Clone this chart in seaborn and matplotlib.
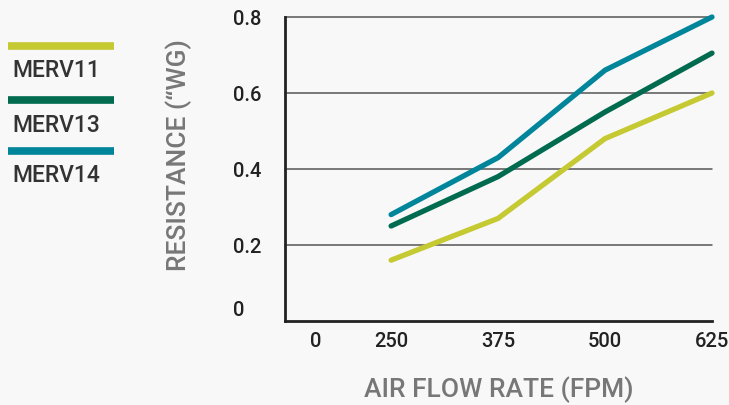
import numpy as np
import pandas as pd
import matplotlib
matplotlib.use("Agg")
import matplotlib.pyplot as plt
from matplotlib.lines import Line2D
from matplotlib.transforms import ScaledTranslation
import seaborn as sns

# ---- data ----
flow_rates = [250, 375, 500, 625]
merv11 = [0.16, 0.27, 0.48, 0.60]
merv13 = [0.25, 0.38, 0.55, 0.705]
merv14 = [0.28, 0.43, 0.66, 0.80]
series_names = ["MERV11", "MERV13", "MERV14"]
series_colors = ["#c5c932", "#006b4f", "#00859b"]
x_tick_values = [162, 250, 375, 500, 625]
x_tick_labels = ["0", "250", "375", "500", "625"]
y_ticks = [0, 0.2, 0.4, 0.6, 0.8]
y_tick_labels = ["0", "0.2", "0.4", "0.6", "0.8"]

df = pd.DataFrame({
    "flow": flow_rates * 3,
    "resistance": merv11 + merv13 + merv14,
    "series": [n for n in series_names for _ in flow_rates],
})

sns.set_theme(style="white")
plt.rcParams["font.family"] = ["Roboto", "DejaVu Sans"]
bg = "#f8f8f8"
fig = plt.figure(figsize=(7.29, 4.06), dpi=100, facecolor=bg)
ax = fig.add_axes([285 / 729, 1 - 322 / 406, (712 - 285) / 729, (322 - 18) / 406])
ax.set_facecolor(bg)

palette = dict(zip(series_names, series_colors))
sns.lineplot(data=df, x="flow", y="resistance", hue="series", palette=palette,
             linewidth=3.8, ax=ax, legend=False, zorder=3)
for ln in ax.lines:
    ln.set_clip_on(False)
    ln.set_solid_joinstyle("miter")

ax.set_xlim(126, 625)
ax.set_ylim(0, 0.8)

# gridlines
for yv in y_ticks[1:]:
    ax.axhline(yv, color="#555555", linewidth=1.1, zorder=1, clip_on=False)

for side in ["top", "right"]:
    ax.spines[side].set_visible(False)
for side in ["left", "bottom"]:
    ax.spines[side].set_color("#222222")
    ax.spines[side].set_linewidth(2)

ax.set_xticks(x_tick_values)
ax.set_xticklabels(x_tick_labels, fontweight="medium")
ax.set_yticks(y_ticks)
ax.set_yticklabels(y_tick_labels, fontweight="medium")
ax.tick_params(axis="x", length=3.5, width=2, color="#222222", pad=4,
               labelsize=14.5, labelcolor="#222222", direction="out")
ax.tick_params(axis="y", length=0, pad=37.4, labelsize=14.5, labelcolor="#222222")
for lbl in ax.get_yticklabels():
    lbl.set_horizontalalignment("left")
# hide first x tick mark (the "0" label has no tick)
ax.xaxis.get_major_ticks()[0].tick1line.set_visible(False)
# shift "0" y label up slightly
ylabels = ax.get_yticklabels()
ylabels[0].set_transform(ylabels[0].get_transform() + ScaledTranslation(0, 14 / 100, fig.dpi_scale_trans))

ax.set_xlabel("AIR FLOW RATE (FPM)", fontsize=19, color="#777777", labelpad=18,
              fontweight="medium")
ax.set_ylabel("RESISTANCE (\u201cWG)", fontsize=19, color="#777777", fontweight="medium")
ax.yaxis.set_label_coords((192 - 285) / 427, (322 - 155) / 304)

# manual legend: line above label
leg_line_y = [47, 101, 152]
for name, color, ly in zip(series_names, series_colors, leg_line_y):
    fig.add_artist(Line2D([8 / 729, 114 / 729], [1 - ly / 406, 1 - ly / 406],
                          transform=fig.transFigure, color=color, linewidth=5.5,
                          solid_capstyle="butt"))
    fig.text(12 / 729, 1 - (ly + 24) / 406, name, fontsize=16.5, color="#333333",
             va="center", ha="left", fontweight="medium")

fig.savefig("out.png", dpi=100, facecolor=bg)
